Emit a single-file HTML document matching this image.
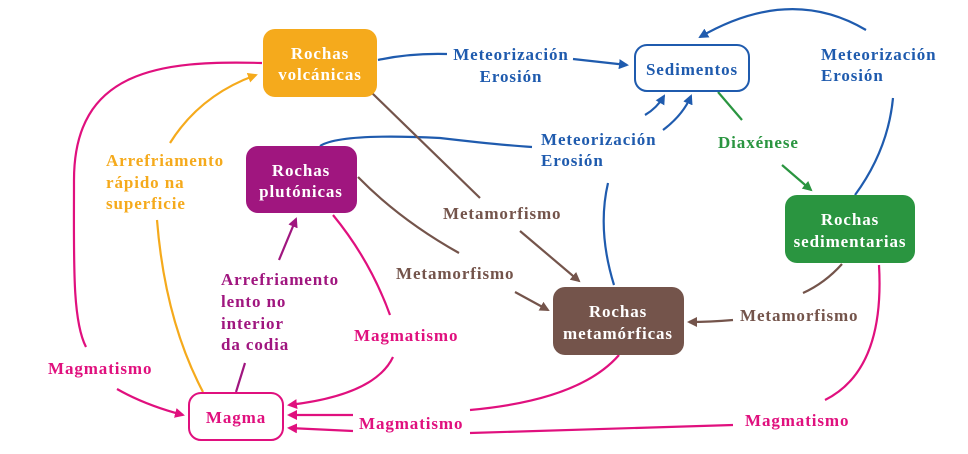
<!DOCTYPE html>
<html><head><meta charset="utf-8"><style>
html,body{margin:0;padding:0;background:#fff;}
svg{display:block;}
text{font-family:"Liberation Serif","DejaVu Serif",serif;font-weight:bold;font-size:17px;letter-spacing:0.9px;}
</style></head><body>
<svg width="968" height="454" viewBox="0 0 968 454" xmlns="http://www.w3.org/2000/svg">
<defs>
<marker id="ab" markerWidth="10" markerHeight="10" refX="8" refY="5" orient="auto" markerUnits="userSpaceOnUse"><path d="M0,0 L10,5 L0,10 Z" fill="#1F5BAE"/></marker>
<marker id="ag" markerWidth="10" markerHeight="10" refX="8" refY="5" orient="auto" markerUnits="userSpaceOnUse"><path d="M0,0 L10,5 L0,10 Z" fill="#2A9540"/></marker>
<marker id="abr" markerWidth="10" markerHeight="10" refX="8" refY="5" orient="auto" markerUnits="userSpaceOnUse"><path d="M0,0 L10,5 L0,10 Z" fill="#74544B"/></marker>
<marker id="am" markerWidth="10" markerHeight="10" refX="8" refY="5" orient="auto" markerUnits="userSpaceOnUse"><path d="M0,0 L10,5 L0,10 Z" fill="#E0107E"/></marker>
<marker id="ao" markerWidth="10" markerHeight="10" refX="8" refY="5" orient="auto" markerUnits="userSpaceOnUse"><path d="M0,0 L10,5 L0,10 Z" fill="#F5AA1C"/></marker>
<marker id="ap" markerWidth="10" markerHeight="10" refX="8" refY="5" orient="auto" markerUnits="userSpaceOnUse"><path d="M0,0 L10,5 L0,10 Z" fill="#A0167F"/></marker>
</defs>
<g fill="none" stroke-width="2.2">
<path d="M378,60 Q410,53 447,54" stroke="#1F5BAE"/>
<path d="M573,59 L627,65" stroke="#1F5BAE" marker-end="url(#ab)"/>
<path d="M320,146 Q340,133 440,138 Q500,145 532,147" stroke="#1F5BAE"/>
<path d="M645,115 Q657,108 664,96" stroke="#1F5BAE" marker-end="url(#ab)"/>
<path d="M663,130 Q683,115 691,96" stroke="#1F5BAE" marker-end="url(#ab)"/>
<path d="M614,285 Q597,230 608,183" stroke="#1F5BAE"/>
<path d="M855,195 Q888,150 893,98" stroke="#1F5BAE"/>
<path d="M866,30 Q790,-15 700,37" stroke="#1F5BAE" marker-end="url(#ab)"/>
<path d="M718,92 L742,120" stroke="#2A9540"/>
<path d="M782,165 L811,190" stroke="#2A9540" marker-end="url(#ag)"/>
<path d="M372,93 L480,198" stroke="#74544B"/>
<path d="M520,231 L579,281" stroke="#74544B" marker-end="url(#abr)"/>
<path d="M358,177 Q400,220 459,253" stroke="#74544B"/>
<path d="M515,292 L548,310" stroke="#74544B" marker-end="url(#abr)"/>
<path d="M842,264 Q825,283 803,293" stroke="#74544B"/>
<path d="M733,320 Q710,322 689,322" stroke="#74544B" marker-end="url(#abr)"/>
<path d="M203,392 Q165,320 157,220" stroke="#F5AA1C"/>
<path d="M170,143 Q200,95 256,75" stroke="#F5AA1C" marker-end="url(#ao)"/>
<path d="M236,392 L245,363" stroke="#A0167F"/>
<path d="M279,260 L296,219" stroke="#A0167F" marker-end="url(#ap)"/>
<path d="M262,63 C160,60 74,70 74,180 C74,260 72,320 86,347" stroke="#E0107E"/>
<path d="M117,389 Q145,405 183,415" stroke="#E0107E" marker-end="url(#am)"/>
<path d="M333,215 Q370,260 390,315" stroke="#E0107E"/>
<path d="M393,357 Q375,395 289,405" stroke="#E0107E" marker-end="url(#am)"/>
<path d="M353,415 L289,415" stroke="#E0107E" marker-end="url(#am)"/>
<path d="M353,431 L289,428" stroke="#E0107E" marker-end="url(#am)"/>
<path d="M470,410 Q580,400 619,355" stroke="#E0107E"/>
<path d="M470,433 L733,425" stroke="#E0107E"/>
<path d="M879,265 Q885,370 825,400" stroke="#E0107E"/>
</g>
<rect x="263" y="29" width="114" height="68" rx="12" fill="#F5AA1C"/>
<text x="320" y="59" fill="#fff" text-anchor="middle">Rochas</text>
<text x="320" y="80" fill="#fff" text-anchor="middle">volcánicas</text>
<rect x="246" y="146" width="111" height="67" rx="12" fill="#A0167F"/>
<text x="301" y="176" fill="#fff" text-anchor="middle">Rochas</text>
<text x="301" y="197" fill="#fff" text-anchor="middle">plutónicas</text>
<rect x="635" y="45" width="114" height="46" rx="12" fill="#fff" stroke="#1F5BAE" stroke-width="2"/>
<text x="692" y="75" fill="#1F5BAE" text-anchor="middle">Sedimentos</text>
<rect x="785" y="195" width="130" height="68" rx="12" fill="#2A9540"/>
<text x="850" y="225" fill="#fff" text-anchor="middle">Rochas</text>
<text x="850" y="247" fill="#fff" text-anchor="middle">sedimentarias</text>
<rect x="553" y="287" width="131" height="68" rx="12" fill="#74544B"/>
<text x="618" y="317" fill="#fff" text-anchor="middle">Rochas</text>
<text x="618" y="339" fill="#fff" text-anchor="middle">metamórficas</text>
<rect x="189" y="393" width="94" height="47" rx="12" fill="#fff" stroke="#E0107E" stroke-width="2"/>
<text x="236" y="423" fill="#E0107E" text-anchor="middle">Magma</text>
<g fill="#1F5BAE">
<text x="511" y="60" text-anchor="middle">Meteorización</text>
<text x="511" y="82" text-anchor="middle">Erosión</text>
<text x="541" y="145">Meteorización</text>
<text x="541" y="166">Erosión</text>
<text x="821" y="60">Meteorización</text>
<text x="821" y="81">Erosión</text>
</g>
<text x="718" y="148" fill="#2A9540">Diaxénese</text>
<g fill="#74544B">
<text x="443" y="219">Metamorfismo</text>
<text x="396" y="279">Metamorfismo</text>
<text x="740" y="321">Metamorfismo</text>
</g>
<g fill="#F5AA1C">
<text x="106" y="166">Arrefriamento</text>
<text x="106" y="188">rápido na</text>
<text x="106" y="209">superficie</text>
</g>
<g fill="#A0167F">
<text x="221" y="285">Arrefriamento</text>
<text x="221" y="307">lento no</text>
<text x="221" y="329">interior</text>
<text x="221" y="350">da codia</text>
</g>
<g fill="#E0107E">
<text x="48" y="374">Magmatismo</text>
<text x="354" y="341">Magmatismo</text>
<text x="359" y="429">Magmatismo</text>
<text x="745" y="426">Magmatismo</text>
</g>
</svg>
</body></html>
